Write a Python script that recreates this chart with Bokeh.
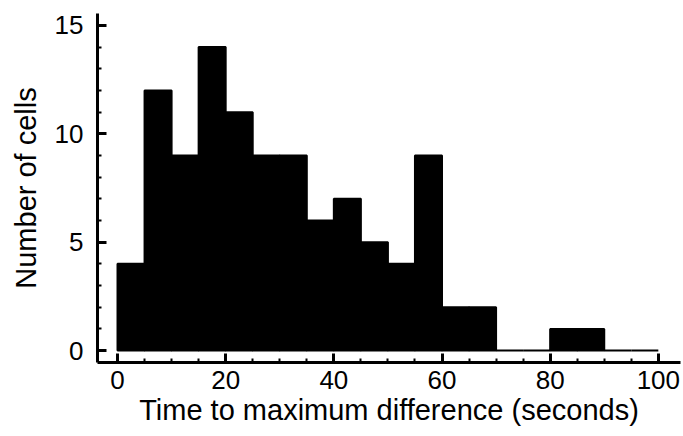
from bokeh.plotting import figure
from bokeh.models import Range1d, SingleIntervalTicker
from bokeh.embed import file_html
from bokeh.resources import INLINE

bin_left = [0, 5, 10, 15, 20, 25, 30, 35, 40, 45, 50, 55, 60, 65, 70, 75, 80, 85, 90, 95]
bin_right = [5, 10, 15, 20, 25, 30, 35, 40, 45, 50, 55, 60, 65, 70, 75, 80, 85, 90, 95, 100]
counts = [4, 12, 9, 14, 11, 9, 9, 6, 7, 5, 4, 9, 2, 2, 0, 0, 1, 1, 0, 0]
bottoms = [0] * len(counts)

FONT = "Liberation Sans"

p = figure(width=683, height=436, output_backend="svg", toolbar_location=None,
           x_range=Range1d(-3.7, 104.1), y_range=Range1d(-0.55, 15.55),
           min_border_left=97, min_border_right=3, min_border_top=13, min_border_bottom=74)
p.outline_line_color = None
p.xgrid.visible = False
p.ygrid.visible = False
p.background_fill_color = "white"
p.border_fill_color = "white"

p.quad(left=bin_left, right=bin_right, top=counts, bottom=bottoms,
       fill_color="black", line_color="black", line_width=2)

p.xaxis.ticker = SingleIntervalTicker(interval=20, num_minor_ticks=4)
p.yaxis.ticker = SingleIntervalTicker(interval=5, num_minor_ticks=5)

for ax in (p.xaxis[0], p.yaxis[0]):
    ax.axis_line_width = 3
    ax.axis_line_color = "black"
    ax.major_tick_in = 9
    ax.major_tick_out = 0
    ax.minor_tick_in = 4
    ax.minor_tick_out = 0
    ax.major_tick_line_width = 3
    ax.minor_tick_line_width = 2
    ax.major_tick_line_color = "black"
    ax.minor_tick_line_color = "black"
    ax.major_label_text_font = FONT
    ax.major_label_text_font_size = "26px"
    ax.major_label_text_color = "black"
    ax.axis_label_text_font = FONT
    ax.axis_label_text_font_size = "29px"
    ax.axis_label_text_font_style = "normal"
    ax.axis_label_text_color = "black"

p.xaxis.axis_label = "Time to maximum difference (seconds)"
p.yaxis.axis_label = "Number of cells"
p.xaxis.major_label_standoff = 8
p.xaxis.axis_label_standoff = 2
p.yaxis.major_label_standoff = 14
p.yaxis.axis_label_standoff = 10

open("out.html", "w").write(file_html(p, INLINE))
